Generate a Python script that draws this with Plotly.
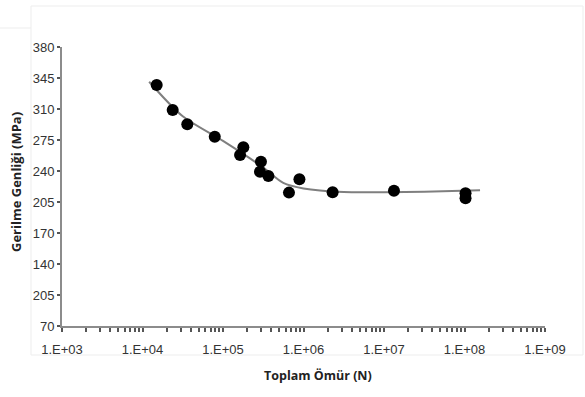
import plotly.graph_objects as go
import numpy as np

# Data
cycles = [1.5e4, 2.37e4, 3.6e4, 7.9e4, 1.79e5, 1.63e5, 2.96e5, 2.88e5, 3.66e5,
          8.9e5, 6.6e5, 2.3e6, 1.33e7, 1.03e8, 1.03e8]
stress = [337.8, 310.0, 294.1, 280.3, 268.6, 260.0, 252.6, 241.5, 236.7,
          233.0, 218.2, 218.6, 220.3, 217.5, 212.0]

fit_cycles = [1.21e4, 3.16e4, 1.0e5, 3.16e5, 5.6e5, 1.0e6, 3.16e6, 1.0e7, 3.16e7, 1.56e8]
fit_stress = [341.4, 303.0, 275.6, 246.1, 229.0, 222.8, 218.8, 218.6, 219.1, 220.8]

ytick_labels = ["70", "205", "140", "170", "205", "240", "275", "310", "345", "380"]
decades = [3, 4, 5, 6, 7, 8, 9]

xtickvals, xticktext = [], []
for d in decades:
    xtickvals.append(10.0 ** d)
    xticktext.append("1.E+%02d" % d)
    if d < 9:
        for m in range(2, 10):
            xtickvals.append(m * 10.0 ** d)
            xticktext.append("")

ymin, ymax = 70, 380
ytickvals = list(np.linspace(ymin, ymax, len(ytick_labels)))

fig = go.Figure()
fig.add_trace(go.Scatter(x=fit_cycles, y=fit_stress, mode="lines",
                         line=dict(color="#7f7f7f", width=2, shape="spline", smoothing=0.8),
                         hoverinfo="skip", showlegend=False))
fig.add_trace(go.Scatter(x=cycles, y=stress, mode="markers",
                         marker=dict(color="black", size=12, symbol="circle"),
                         showlegend=False))

axis_col = "#8c8c8c"
tick_font = dict(family="Liberation Sans, Arial, sans-serif", size=13, color="#333333")
title_font_family = "Open Sans, Liberation Sans, sans-serif"
fig.update_xaxes(type="log", range=[3, 9], tickvals=xtickvals, ticktext=xticktext,
                 showgrid=False, zeroline=False, showline=True, linecolor=axis_col, linewidth=2,
                 ticks="outside", ticklen=4, tickwidth=1.5, tickcolor="#555555",
                 tickfont=tick_font, ticklabelstandoff=6)
fig.update_yaxes(range=[ymin, ymax], tickvals=ytickvals, ticktext=ytick_labels,
                 showgrid=False, zeroline=False, showline=True, linecolor=axis_col, linewidth=2,
                 ticks="outside", ticklen=3, tickwidth=1.5, tickcolor="#555555",
                 tickfont=tick_font)

def px2paper_x(px):
    return (px - 62) / 483.0

def py2paper_y(py):
    return (326 - py) / 279.0

# axis titles placed as in the reference
fig.add_annotation(text="<b>Toplam Ömür (N)</b>", xref="paper", yref="paper",
                   x=px2paper_x(318), y=py2paper_y(375), showarrow=False,
                   xanchor="center", yanchor="middle",
                   font=dict(family=title_font_family, size=12.5, color="#222222"))
fig.add_annotation(text="<b>Gerilme Genliği (MPa)</b>", xref="paper", yref="paper",
                   x=px2paper_x(16), y=py2paper_y(182), showarrow=False, textangle=-90,
                   xanchor="center", yanchor="middle",
                   font=dict(family=title_font_family, size=13, color="#222222"))

# faint outer frame of the original picture
frame_col = "#ededed"
fig.add_shape(type="rect", xref="paper", yref="paper",
              x0=px2paper_x(31), x1=px2paper_x(583), y0=py2paper_y(355), y1=py2paper_y(6),
              line=dict(color=frame_col, width=1), layer="below")
fig.add_shape(type="line", xref="paper", yref="paper",
              x0=px2paper_x(0), x1=px2paper_x(31), y0=py2paper_y(28), y1=py2paper_y(28),
              line=dict(color=frame_col, width=1), layer="below")

fig.update_layout(width=585, height=397, margin=dict(l=62, r=40, t=47, b=71),
                  plot_bgcolor="white", paper_bgcolor="white")

fig.write_html("out.html")
